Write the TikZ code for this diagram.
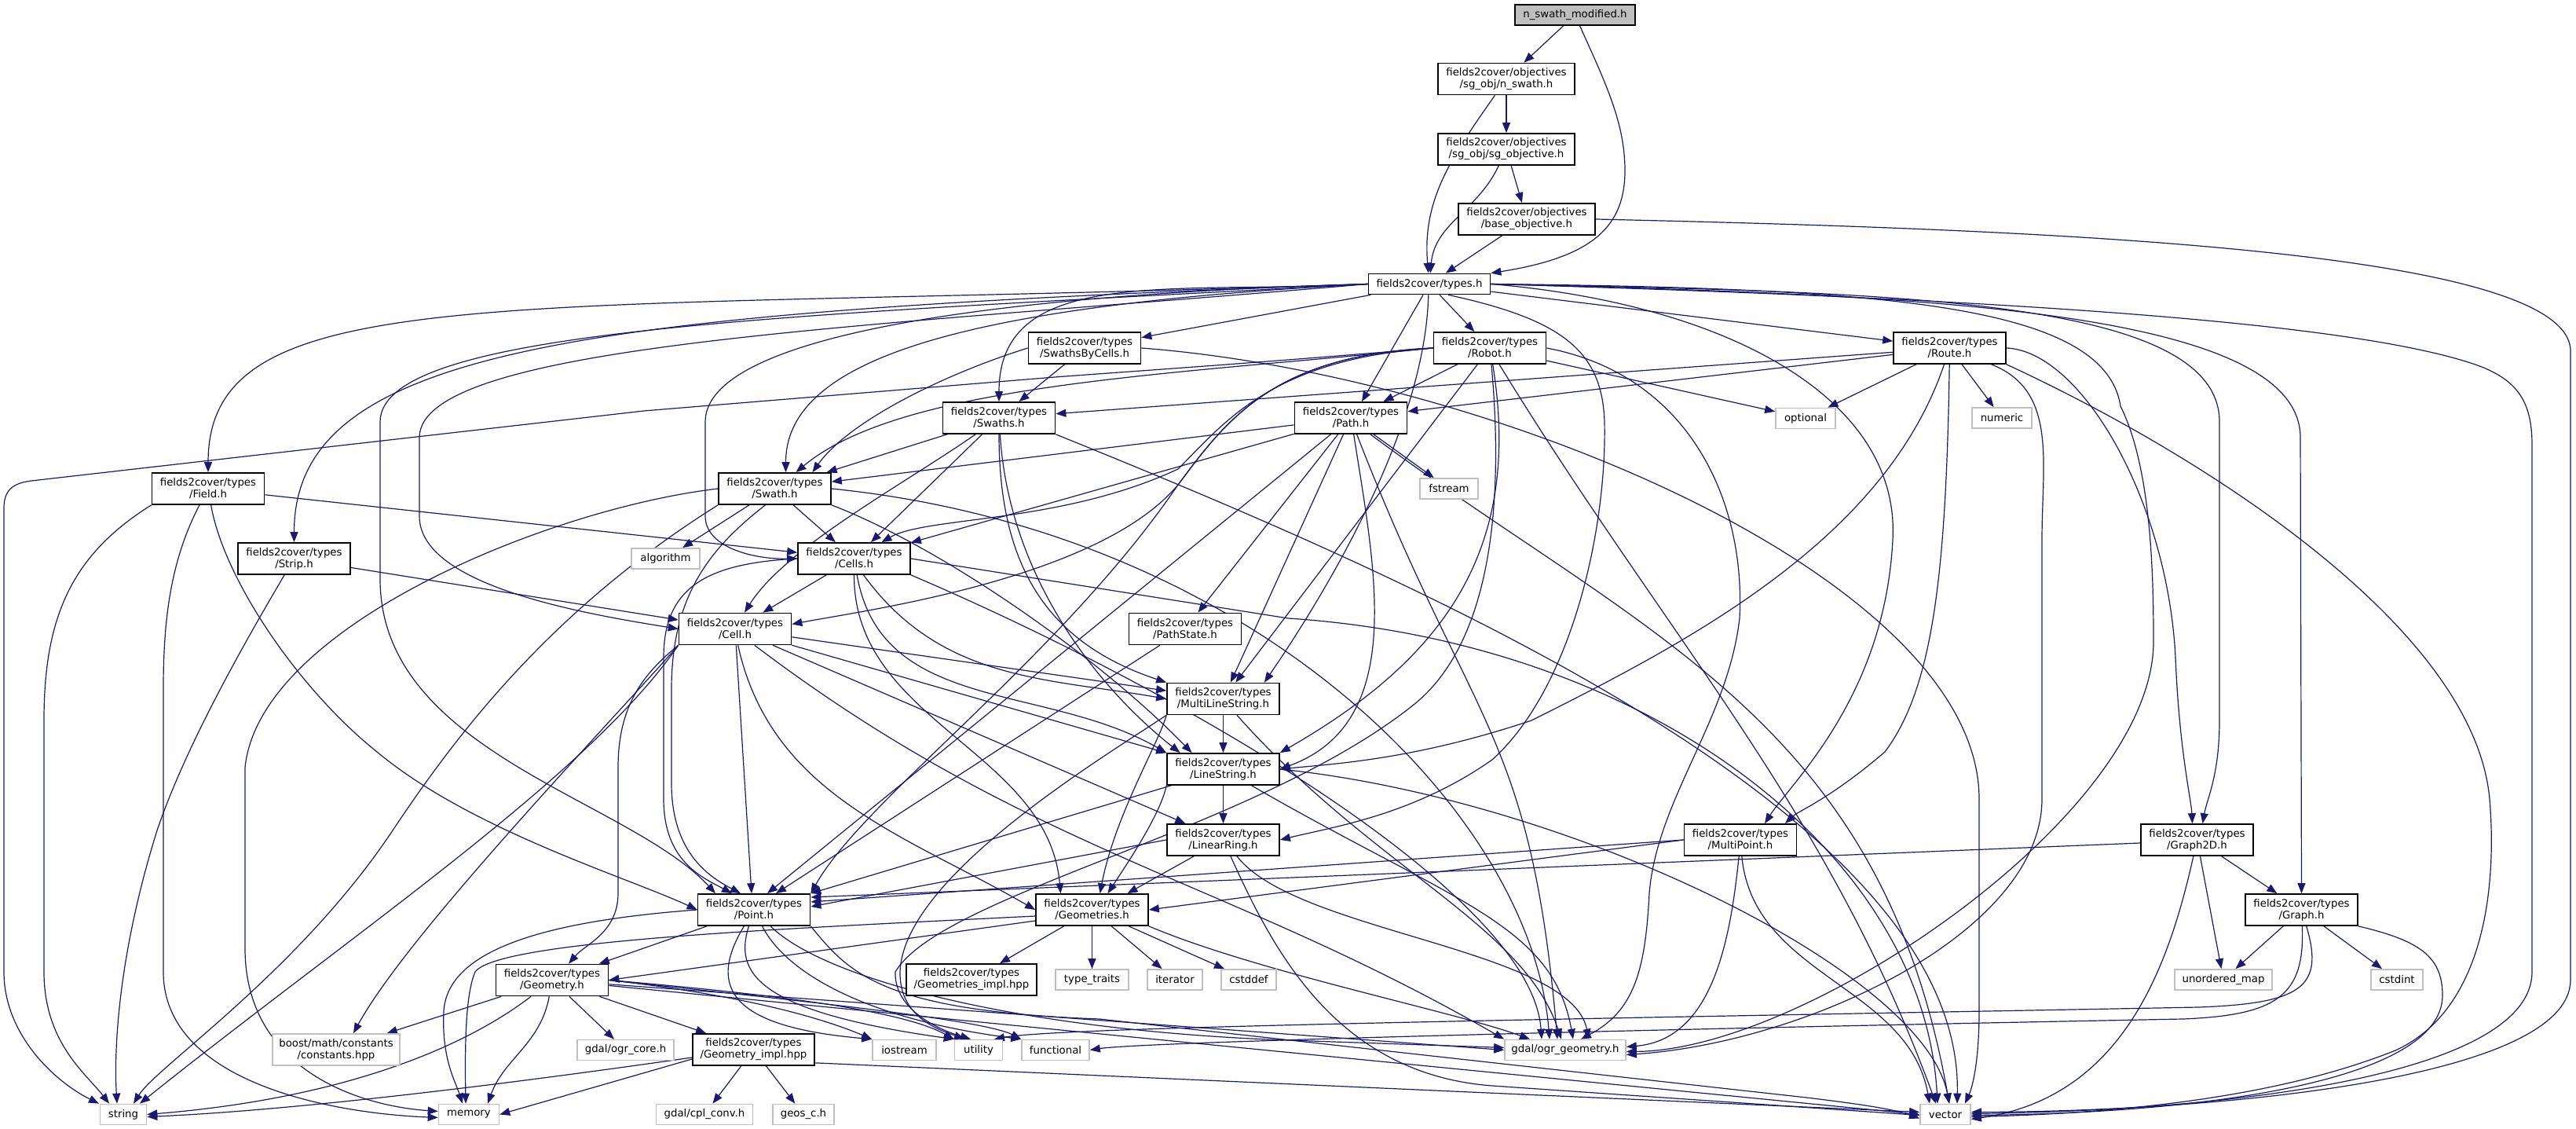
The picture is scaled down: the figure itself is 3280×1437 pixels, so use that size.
\documentclass[tikz,border=0pt]{standalone}
\usepackage{fontspec}
\setmainfont{DejaVu Sans}
\usetikzlibrary{arrows.meta}
\pgfdeclarelayer{bglayer}
\pgfdeclarelayer{edgelayer}
\pgfsetlayers{bglayer,edgelayer,main}
\definecolor{edgec}{HTML}{191970}
\definecolor{extb}{HTML}{BFBFBF}
\definecolor{startf}{HTML}{BFBFBF}
\newcommand\nf{\fontsize{13.3}{15}\selectfont}
\tikzset{
  box/.style={draw=black, line width=1.7pt, fill=white, inner sep=0pt, align=center, font=\nf, minimum width=143pt, minimum height=40pt},
  xbox/.style={draw=extb, line width=1.7pt, fill=white, inner sep=0pt, align=center, font=\nf, minimum height=26pt},
  e/.style={draw=edgec, line width=1.2pt, -{Triangle[length=13pt,width=10pt]}}
}
\begin{document}
\begin{tikzpicture}[x=1pt,y=1pt]
\useasboundingbox (0,0) rectangle (3280,1437);
\begin{pgfonlayer}{bglayer}
\fill[white] (0,0) rectangle (3280,1437);
\end{pgfonlayer}
% ---------------- nodes ----------------
\node[box,fill=startf,minimum width=153pt,minimum height=26pt] (nsm) at (2005.5,1418) {n\_swath\_modified.h};
\node[box,minimum width=174pt] (nswath) at (1918,1336.5) {fields2cover/objectives\\/sg\_obj/n\_swath.h};
\node[box,minimum width=174pt] (sgobj) at (1918,1247) {fields2cover/objectives\\/sg\_obj/sg\_objective.h};
\node[box,minimum width=174pt] (baseobj) at (1944,1158) {fields2cover/objectives\\/base\_objective.h};
\node[box,minimum width=155pt,minimum height=26pt] (types) at (1820,1075.5) {fields2cover/types.h};
\node[box] (robot) at (1897,994) {fields2cover/types\\/Robot.h};
\node[box] (route) at (2482.5,994) {fields2cover/types\\/Route.h};
\node[box] (sbc) at (1381,994) {fields2cover/types\\/SwathsByCells.h};
\node[box] (swaths) at (1272,905) {fields2cover/types\\/Swaths.h};
\node[box] (swath) at (986.5,815) {fields2cover/types\\/Swath.h};
\node[box] (path) at (1720,905) {fields2cover/types\\/Path.h};
\node[xbox,minimum width=76pt] (optional) at (2299,904.5) {optional};
\node[xbox,minimum width=76pt] (numeric) at (2549,905) {numeric};
\node[xbox,minimum width=74pt] (fstream) at (1845,815) {fstream};
\node[box] (field) at (265,815) {fields2cover/types\\/Field.h};
\node[box] (strip) at (374.5,726) {fields2cover/types\\/Strip.h};
\node[xbox,minimum width=87pt] (algorithm) at (847.5,726) {algorithm};
\node[box] (cells) at (1087.5,726) {fields2cover/types\\/Cells.h};
\node[box] (cell) at (936,636.5) {fields2cover/types\\/Cell.h};
\node[box] (pathstate) at (1509,636.5) {fields2cover/types\\/PathState.h};
\node[box] (mls) at (1557.5,547.5) {fields2cover/types\\/MultiLineString.h};
\node[box] (ls) at (1557.5,458) {fields2cover/types\\/LineString.h};
\node[box] (lr) at (1557.5,368) {fields2cover/types\\/LinearRing.h};
\node[box] (point) at (960,279) {fields2cover/types\\/Point.h};
\node[box] (geometries) at (1390.5,279) {fields2cover/types\\/Geometries.h};
\node[box,minimum width=166pt] (gsimpl) at (1237,190) {fields2cover/types\\/Geometries\_impl.hpp};
\node[xbox,minimum width=93pt] (typetraits) at (1390.5,190) {type\_traits};
\node[xbox,minimum width=70pt] (iterator) at (1496,190) {iterator};
\node[xbox,minimum width=70pt] (cstddef) at (1590,190) {cstddef};
\node[box] (multipoint) at (2216,368) {fields2cover/types\\/MultiPoint.h};
\node[box] (graph2d) at (2797.5,368) {fields2cover/types\\/Graph2D.h};
\node[box] (graph) at (2930.5,279) {fields2cover/types\\/Graph.h};
\node[xbox,minimum width=124pt] (umap) at (2831,190) {unordered\_map};
\node[xbox,minimum width=66pt] (cstdint) at (3052,190) {cstdint};
\node[xbox,minimum width=64pt] (vector) at (2477,18.5) {vector};
\node[xbox,minimum width=154pt] (ogrgeom) at (1993,100.5) {gdal/ogr\_geometry.h};
\node[box] (geometry) at (703,189.5) {fields2cover/types\\/Geometry.h};
\node[xbox,minimum width=162pt,minimum height=40pt] (boost) at (428,101) {boost/math/constants\\/constants.hpp};
\node[xbox,minimum width=123pt] (ogrcore) at (796.5,100.5) {gdal/ogr\_core.h};
\node[xbox,minimum width=59pt] (string) at (157,18.5) {string};
\node[xbox,minimum width=77pt] (memory) at (597,18.5) {memory};
\node[box,minimum width=155pt] (gimpl) at (959.5,101) {fields2cover/types\\/Geometry\_impl.hpp};
\node[xbox,minimum width=81pt] (iostream) at (1151.5,100.5) {iostream};
\node[xbox,minimum width=61pt] (utility) at (1246,100.5) {utility};
\node[xbox,minimum width=86pt] (functional) at (1344,100.5) {functional};
\node[xbox,minimum width=123pt] (cplconv) at (897,18.5) {gdal/cpl\_conv.h};
\node[xbox,minimum width=78pt] (geosc) at (1023,18.5) {geos\_c.h};
% ---------------- edges ----------------
\begin{pgfonlayer}{edgelayer}
% top part
\draw[e] (nsm) -- (nswath);
\draw[e] ([xshift=6pt]nsm.south) .. controls (2045,1330) and (2069,1280) .. (2069,1220) .. controls (2069,1150) and (2030,1110) .. (types.north east);
\draw[e] (nswath) -- (sgobj);
\draw[e] (nswath) to[out=-125,in=95] (types);
\draw[e] (sgobj) -- (baseobj);
\draw[e] (sgobj) to[out=-115,in=85] (types);
\draw[e] (baseobj) -- (types);
\draw[e] (baseobj.east) .. controls (2600,1145) and (3273,1120) .. (3273,990) -- (3273,190) .. controls (3273,60) and (2800,22) .. ([yshift=3pt]vector.east);
% types.h
\draw[e] (types.west) .. controls (643,1037) and (265,1085) .. (field.north);
\draw[e] (types.west) .. controls (743,1040) and (374.5,996) .. (strip.north);
\draw[e] (types.west) .. controls (1000,1035) and (484,1020) .. (484,900) -- (484,700) .. controls (484,480) and (800,420) .. ([xshift=-49pt]point.north);
\draw[e] (types.west) .. controls (1100,1020) and (534,1000) .. (534,880) -- (534,780) .. controls (534,690) and (750,655) .. (cell.west);
\draw[e] (types.west) .. controls (1200,1060) and (898,1000) .. (898,900) -- (898,780) .. controls (898,740) and (960,725) .. (cells.west);
\draw[e] (types.west) .. controls (1243,1049) and (1000.5,985) .. ([xshift=14pt]swath.north);
\draw[e] (types.west) .. controls (1492,1062) and (1272,1100) .. (swaths.north);
\draw[e] (types) -- (sbc);
\draw[e] (types) -- (robot);
\draw[e] (types) -- ([xshift=14pt]path.north);
\draw[e] (types.-95) .. controls (1815,900) and (1700,700) .. ([xshift=-20pt]mls.north east);
\draw[e] (types.-30) .. controls (1990,1030) and (2040,990) .. (2043,900) .. controls (2046,760) and (2000,560) .. (1900,470) .. controls (1800,400) and (1700,385) .. (lr.east);
\draw[e] (types.east) .. controls (2200,1050) and (2420,930) .. (2410,750) .. controls (2400,550) and (2280,440) .. ([xshift=31pt]multipoint.north);
\draw[e] (types) -- (route);
\draw[e] (types.east) .. controls (2400,1065) and (2826,1060) .. (2826,900) -- (2826,520) .. controls (2826,450) and (2810,420) .. ([xshift=7pt]graph2d.north);
\draw[e] (types.east) .. controls (2400,1062) and (2929,1050) .. (2929,880) -- (graph.north);
\draw[e] (types.east) .. controls (2500,1058) and (3000,1030) .. (3160,970) .. controls (3210,950) and (3224,920) .. (3224,870) -- (3224,200) .. controls (3224,80) and (2900,25) .. ([yshift=1pt]vector.east);
\draw[e] (types.east) .. controls (2400,1070) and (2680,1050) .. (2700,920) .. controls (2740,840) and (2742,700) .. (2742,620) .. controls (2742,400) and (2300,100) .. ([yshift=-2pt]ogrgeom.east);
% SwathsByCells
\draw[e] (sbc) -- (swaths);
\draw[e] (sbc.west) .. controls (1200,960) and (1080,900) .. ([xshift=48pt]swath.north);
\draw[e] (sbc.east) .. controls (1900,960) and (2520,700) .. (2520,420) -- (2520,150) .. controls (2520,80) and (2510,50) .. ([xshift=25pt]vector.north);
% Robot
\draw[e] (robot.west) .. controls (1500,960) and (1150,950) .. ([xshift=27pt]swath.north);
\draw[e] (robot.west) .. controls (1620,980) and (1560,900) .. (1500,840) .. controls (1350,770) and (1180,780) .. ([xshift=35pt]cells.north);
\draw[e] (robot.west) .. controls (1620,985) and (1560,900) .. (1500,820) .. controls (1400,700) and (1100,660) .. ([yshift=6pt]cell.east);
\draw[e] (robot) -- (path);
\draw[e] (robot) -- (optional);
\draw[e] (robot.west) .. controls (1600,975) and (1450,965) .. (1343,957) -- (820,914) -- (40,825) .. controls (15,822) and (5,812) .. (5,790) -- (5,200) .. controls (5,120) and (70,60) .. ([xshift=-31pt]string.north);
\draw[e] (robot.west) .. controls (1620,985) and (1560,900) .. (1500,820) .. controls (1350,600) and (1100,420) .. (point.north east);
\draw[e] (robot) -- (mls);
\draw[e] (robot.-80) .. controls (1939,737) and (1839,599) .. (ls.north east);
\draw[e] (robot) .. controls (1915,800) and (1900,620) .. (1800,540) .. controls (1600,380) and (1200,300) .. (1140,200) .. controls (1138,150) and (1200,125) .. ([xshift=-10pt]utility.north);
\draw[e] (robot.east) .. controls (2150,960) and (2223,800) .. (2215,650) .. controls (2200,520) and (2110,420) .. (2100,300) .. controls (2095,200) and (2080,150) .. ([xshift=20pt]ogrgeom.north);
\draw[e] (robot.-60) .. controls (2120,628) and (2328,407) .. ([xshift=-12pt]vector.north);
% Route
\draw[e] (route) -- (swaths);
\draw[e] (route) -- (path);
\draw[e] (route) -- (optional);
\draw[e] (route) -- (numeric);
\draw[e] (route) .. controls (2478,700) and (2460,560) .. (2400,480) .. controls (2330,420) and (2290,405) .. ([xshift=57pt]multipoint.north);
\draw[e] (route) .. controls (2400,750) and (2150,620) .. (1950,520) .. controls (1800,470) and (1700,465) .. (ls.east);
\draw[e] (route.east) .. controls (2650,990) and (2760,800) .. (2770,600) .. controls (2775,480) and (2790,420) .. ([xshift=-6pt]graph2d.north);
\draw[e] (route) .. controls (2620,940) and (2600,850) .. (2600,750) -- (2600,420) .. controls (2600,250) and (2300,110) .. ([yshift=-6pt]ogrgeom.east);
\draw[e] (route.south east) .. controls (2800,860) and (3150,640) .. (3170,420) .. controls (3180,300) and (3160,150) .. (3050,100) .. controls (2900,40) and (2700,20) .. ([yshift=-3pt]vector.east);
% Swaths
\draw[e] (swaths) -- (swath);
\draw[e] (swaths) -- (cells);
\draw[e] (swaths) .. controls (1150,820) and (1000,740) .. ([xshift=12pt]cell.north);
\draw[e] (swaths) .. controls (1272,720) and (1330,620) .. (mls.north west);
\draw[e] (swaths) .. controls (1285,700) and (1400,560) .. ([xshift=-55pt]ls.north);
\draw[e] (swaths.south east) .. controls (1800,700) and (2500,400) .. ([xshift=15pt]vector.north);
% Swath
\draw[e] (swath.west) .. controls (700,790) and (330,640) .. (312,460) -- (312,230) .. controls (312,80) and (450,30) .. ([yshift=4pt]memory.west);
\draw[e] (swath.south west) .. controls (700,660) and (580,500) .. (500,380) .. controls (380,200) and (200,80) .. ([xshift=13pt]string.north);
\draw[e] (swath) -- (algorithm);
\draw[e] (swath) -- (cells);
\draw[e] (swath.-120) .. controls (905,740) and (855,680) .. (855,560) -- (855,440) .. controls (855,350) and (905,320) .. ([xshift=-17pt]point.north);
\draw[e] (swath.south east) .. controls (1200,740) and (1400,600) .. ([xshift=-40pt]ls.north);
\draw[e] (swath.east) .. controls (1600,760) and (1950,400) .. ([xshift=-20pt]ogrgeom.north);
% Path
\draw[e] (path) -- (swath);
\draw[e] (path) -- (cells);
\draw[e] (path) -- (fstream);
\draw[e] (path) -- (pathstate);
\draw[e] (path) -- (mls);
\draw[e] (path.-80) .. controls (1750,714) and (1793,518) .. (ls.east);
\draw[e] (path) -- ([xshift=17pt]point.north);
\draw[e] (path.-70) .. controls (1873,509) and (1948,511) .. ([xshift=-10pt]ogrgeom.north);
\draw[e] (path.-40) .. controls (2090,628) and (2395,523) .. ([xshift=5pt]vector.north);
% Field
\draw[e] (field.south west) .. controls (90,730) and (56,650) .. (56,520) -- (56,200) .. controls (56,110) and (110,70) .. ([xshift=-18pt]string.north);
\draw[e] (field) .. controls (215,720) and (208,640) .. (208,560) -- (208,200) .. controls (208,60) and (420,20) .. ([yshift=-4pt]memory.west);
\draw[e] (field) .. controls (285,700) and (380,560) .. (480,480) .. controls (600,380) and (800,320) .. (point.west);
\draw[e] (field) -- (cells);
% Strip
\draw[e] (strip) .. controls (300,600) and (234,480) .. (200,380) .. controls (150,220) and (145,100) .. ([xshift=-8pt]string.north);
\draw[e] (strip) -- (cell);
% Cells
\draw[e] (cells) -- (cell);
\draw[e] (cells.west) .. controls (900,720) and (845,690) .. (845,600) -- (845,420) .. controls (845,340) and (895,320) .. ([xshift=-28pt]point.north);
\draw[e] (cells.-80) .. controls (1122,529) and (1330,568) .. (ls.north west);
\draw[e] (cells.-60) .. controls (1198,570) and (1332,574) .. (mls.west);
\draw[e] (cells.south) .. controls (1087,518) and (1334,482) .. ([xshift=-40pt]geometries.north);
\draw[e] (cells.south east) .. controls (1500,560) and (1950,300) .. ([xshift=-30pt]ogrgeom.north);
\draw[e] (cells.east) -- (1640,650) .. controls (2100,620) and (2450,350) .. ([xshift=-10pt]vector.north);
% Cell
\draw[e] (cell) -- ([xshift=-3pt]point.north);
\draw[e] (cell.-80) .. controls (982,425) and (1150,376) .. (geometries.west);
\draw[e] (cell) -- (ls);
\draw[e] (cell) -- (mls);
\draw[e] (cell) -- (lr);
\draw[e] (cell.-40) .. controls (1309,352) and (1561,318.5) .. (ogrgeom.north west);
\draw[e] (cell.south west) .. controls (750,450) and (450,250) .. ([xshift=21pt]string.north);
\draw[e] (cell.south west) .. controls (820,580) and (787,540) .. (787,460) -- (787,300) .. controls (787,250) and (745,235) .. ([xshift=21pt]geometry.north);
\draw[e] (cell.south west) .. controls (780,520) and (520,250) .. ([xshift=22pt]boost.north);
% PathState
\draw[e] (pathstate) -- ([xshift=28pt]point.north);
% MultiLineString
\draw[e] (mls) -- (ls);
\draw[e] (mls.south west) .. controls (1475,490) and (1420,400) .. ([xshift=10pt]geometries.north);
\draw[e] (mls.south west) .. controls (1400,470) and (1150,320) .. (1146,200) .. controls (1145,140) and (1200,125) .. ([xshift=-18pt]utility.north);
\draw[e] (mls.-50) .. controls (1750,330) and (1940,260) .. ([xshift=-5pt]ogrgeom.north);
% LineString
\draw[e] (ls) -- (lr);
\draw[e] (ls.south west) .. controls (1478,400) and (1430,330) .. ([xshift=20pt]geometries.north);
\draw[e] ([xshift=6pt]ls.south west) -- (point.north east);
\draw[e] (ls.-30) .. controls (1852,288) and (1977,261) .. ([xshift=10pt]ogrgeom.north);
\draw[e] (ls.east) .. controls (2000,420) and (2450,200) .. ([xshift=5pt]vector.north);
% LinearRing
\draw[e] (lr.west) -- ([yshift=4pt]point.east);
\draw[e] (lr) -- ([xshift=45pt]geometries.north);
\draw[e] (lr.-50) .. controls (1650,250) and (2000,230) .. ([xshift=30pt]ogrgeom.north);
\draw[e] (lr) .. controls (1620,230) and (1700,70) .. (1900,55) -- ([yshift=-1pt]vector.west);
% MultiPoint
\draw[e] (multipoint.west) -- ([yshift=10pt]point.east);
\draw[e] (multipoint.west) -- (geometries.east);
\draw[e] (multipoint.-95) .. controls (2203,238) and (2180,114) .. ([yshift=4pt]ogrgeom.east);
\draw[e] (multipoint.-85) .. controls (2232,194) and (2430,183) .. ([xshift=-20pt]vector.north);
% Graph2D
\draw[e] ([yshift=-4pt]graph2d.west) -- ([yshift=16pt]point.east);
\draw[e] (graph2d) -- (graph);
\draw[e] (graph2d) -- (umap);
\draw[e] (graph2d) .. controls (2760,200) and (2700,40) .. ([yshift=-6pt]vector.east);
% Graph
\draw[e] (graph) -- (umap);
\draw[e] (graph) -- (cstdint);
\draw[e] (graph) .. controls (2960,180) and (2930,160) .. (2800,155) .. controls (2000,140) and (1350,130) .. ([xshift=20pt]utility.north);
\draw[e] (graph) .. controls (2935,170) and (2900,145) .. (2780,140) .. controls (2000,125) and (1450,110) .. (functional.east);
\draw[e] (graph.south east) .. controls (3080,240) and (3110,220) .. (3110,170) .. controls (3110,60) and (2800,20) .. ([yshift=-1pt]vector.east);
% Point
\draw[e] (point) -- (geometry);
\draw[e] (point.west) .. controls (700,265) and (570,230) .. (565,150) .. controls (562,90) and (580,60) .. ([xshift=-8pt]memory.north);
\draw[e] (point) .. controls (900,180) and (930,130) .. (iostream.north west);
\draw[e] (point) .. controls (935,200) and (960,150) .. (utility.north west);
\draw[e] (point) .. controls (1000,200) and (1100,140) .. (functional.north west);
\draw[e] (point) .. controls (1050,190) and (1300,125) .. (1640,113) -- ([yshift=3pt]ogrgeom.west);
\draw[e] (point.south east) .. controls (1080,200) and (1120,150) .. (1400,140) -- (2300,40) .. controls (2400,28) and (2420,22) .. ([yshift=-5pt]vector.west);
% Geometries
\draw[e] (geometries) -- (gsimpl);
\draw[e] (geometries) -- (typetraits);
\draw[e] (geometries) -- (iterator);
\draw[e] (geometries) -- (cstddef);
\draw[e] ([yshift=-8pt]geometries.west) .. controls (1000,255) and (635,240) .. (605,200) .. controls (592,170) and (592,100) .. ([xshift=-4pt]memory.north);
\draw[e] ([yshift=-14pt]geometries.west) -- (geometry.east);
\draw[e] (geometries.south east) .. controls (1600,200) and (1850,150) .. ([xshift=-45pt]ogrgeom.north);
% Geometry
\draw[e] (geometry) -- (boost);
\draw[e] (geometry) -- (ogrcore);
\draw[e] (geometry) .. controls (600,110) and (450,40) .. (string.east);
\draw[e] (geometry.-100) .. controls (688,108) and (642,90) .. ([xshift=24pt]memory.north);
\draw[e] (geometry) -- (gimpl);
\draw[e] (geometry.east) .. controls (950,170) and (1050,140) .. (iostream.north west);
\draw[e] (geometry.east) .. controls (1000,170) and (1150,150) .. (utility.north west);
\draw[e] (geometry.east) .. controls (1000,165) and (1250,140) .. (functional.north west);
\draw[e] (geometry) -- (ogrgeom.west);
\draw[e] (geometry) -- (vector.west);
% Geometry_impl
\draw[e] (gimpl) -- (cplconv);
\draw[e] (gimpl) -- (geosc);
\draw[e] ([yshift=-10pt]gimpl.west) .. controls (700,65) and (400,25) .. ([yshift=-3pt]string.east);
\draw[e] ([yshift=-12pt]gimpl.west) -- (memory.east);
\draw[e] ([yshift=4pt]gimpl.south east) -- ([yshift=3pt]vector.west);
\end{pgfonlayer}
\end{tikzpicture}
\end{document}
